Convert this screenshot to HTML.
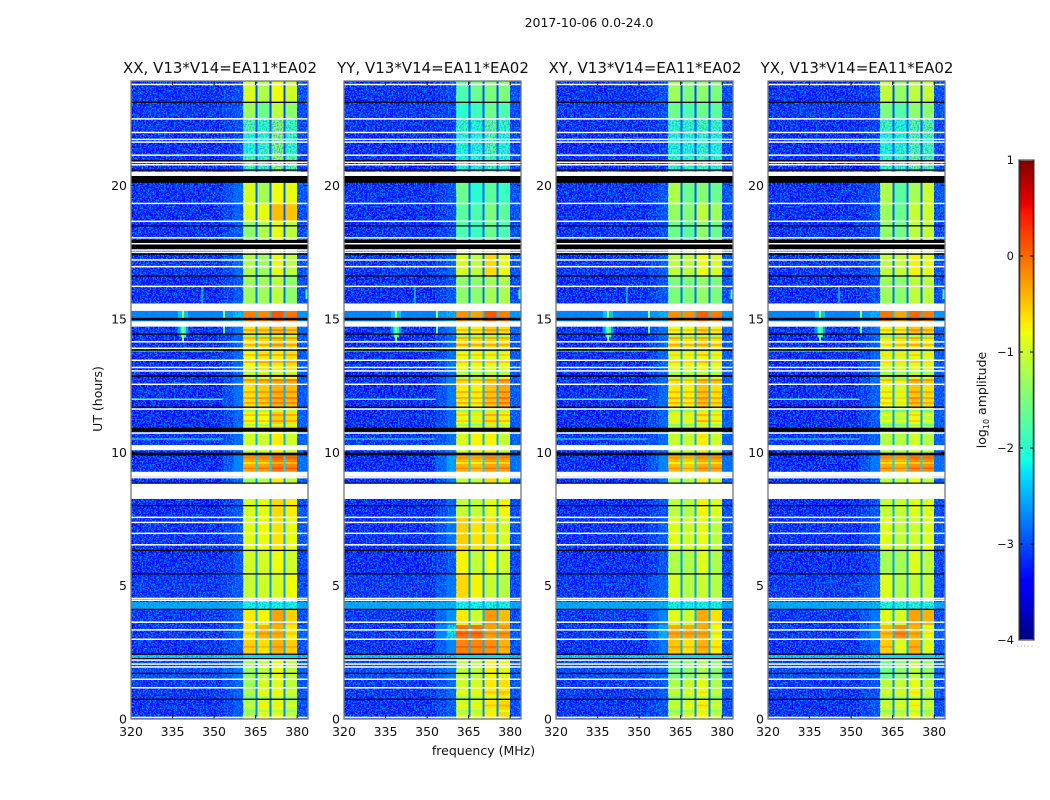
<!DOCTYPE html>
<html lang="en">
<head>
<meta charset="utf-8">
<title>2017-10-06 amplitude waterfall</title>
<style>
html,body{margin:0;padding:0;background:#fff;}
svg{display:block;font-family:"DejaVu Sans","Liberation Sans",sans-serif;fill:#111;}
</style>
</head>
<body>
<svg id="chart" xmlns="http://www.w3.org/2000/svg" width="1050" height="800" viewBox="0 0 1050 800">
<defs>
<filter id="grain" x="0" y="0" width="100%" height="100%" color-interpolation-filters="sRGB">
<feTurbulence type="fractalNoise" baseFrequency="0.62" numOctaves="2" seed="4"/>
<feColorMatrix type="matrix" values="0 0 0 0 0  0 0 0 0 0.55  0 0 0 0 1  0 0 0 6 -2.75"/>
</filter>
</defs>
<text x="589" y="27" text-anchor="middle" font-size="12.5">2017-10-06 0.0-24.0</text>
<text x="483.5" y="755" text-anchor="middle" font-size="12.5">frequency (MHz)</text>
<text transform="translate(102,399) rotate(-90)" text-anchor="middle" font-size="12.5">UT (hours)</text>
<text transform="translate(986,400) rotate(-90)" text-anchor="middle" font-size="12.5">log<tspan font-size="8" dy="3">10</tspan><tspan dy="-3"> amplitude</tspan></text>
<g id="plots"></g>
<g id="cbar"></g>
</svg>
<script>
/* ---------- data ---------- */
const panelNames = ["XX", "YY", "XY", "YX"];
const panelTitle = ", V13*V14=EA11*EA02";
const xTickLabels = [320, 335, 350, 365, 380];
const yTickLabels = [0, 5, 10, 15, 20];
const cbarTickValues = [1, 0, -1, -2, -3, -4];

/* time rows (hours, top edge to bottom edge) */
const rowEdges = [23.92,23.13,22.53,22.01,21.14,20.13,19.34,18.67,17.62,16.61,15.30,14.74,14.45,13.83,12.90,12.52,11.58,10.76,9.93,9.11,8.25,7.57,6.34,5.44,4.39,4.12,3.52,2.96,2.40,2.29,1.46,0.71,0];

/* shared log10 amplitudes per time row */
const backgroundVals = [-3.35,-3.3,-3.35,-3.4,-3.35,-3.35,-3.4,-3.35,-3.3,-3.4,-2.75,-3.3,-3.4,-3.4,-3.4,-3.4,-3.4,-3.3,-3.4,-3.35,-3.4,-3.35,-3.45,-3.3,-2.5,-3.3,-3.3,-3.35,-2.3,-3.15,-3.3,-3.35];
const rightVals = [-3.15,-3.15,-3.2,-3.2,-3.2,-3.1,-3.15,-3.15,-3.1,-3.15,-2.6,-3,-3.05,-3.05,-3.05,-3.05,-3.05,-3,-2.9,-3.05,-3.15,-3.1,-3.2,-3.15,-2.5,-3.15,-3,-3.1,-2.3,-3,-3.1,-3.15];
const gapVals = [-3,-3,-3,-3,-3,-2.9,-2.9,-2.9,-2.8,-2.8,-2.4,-2.6,-2.5,-2.5,-2.5,-2.5,-2.6,-2.5,-2.3,-2.6,-2.5,-2.5,-2.6,-2.6,-2.5,-2.5,-2.4,-2.5,-2.3,-2.8,-2.7,-2.7];

/* near-band shoulder per panel */
const rampXX = [-3.15,-3.1,-3.15,-3.2,-3.15,-2.95,-3,-3.05,-2.95,-3.05,-2.4,-2.85,-2.95,-2.95,-2.9,-2.9,-2.95,-2.95,-2.75,-2.95,-3.05,-3.1,-3.1,-3.05,-2.45,-3,-2.95,-3.05,-2.3,-2.85,-3,-3.05];
const rampYY = [-3.2,-3.2,-3.25,-3.25,-3.25,-3.15,-3.15,-3.15,-3,-3.1,-2.45,-2.85,-2.9,-2.9,-2.8,-2.85,-2.95,-2.9,-2.55,-2.85,-3,-2.85,-3.05,-2.85,-2.45,-2.65,-2.2,-2.75,-2.3,-2.8,-2.95,-3.05];
const rampXY = [-3.15,-3.15,-3.25,-3.25,-3.25,-3.1,-3.1,-3.15,-3,-3.1,-2.45,-2.9,-2.95,-3,-2.95,-2.95,-3,-2.95,-2.75,-2.95,-3.1,-3.05,-3.1,-3,-2.45,-2.75,-2.5,-2.85,-2.3,-2.95,-3.05,-3.1];
const rampYX = [-3.2,-3.2,-3.25,-3.25,-3.25,-3.15,-3.15,-3.15,-3.05,-3.15,-2.45,-2.9,-3,-3,-2.95,-3,-3.05,-3,-2.85,-3.05,-3.1,-3.1,-3.15,-3.05,-2.45,-2.85,-2.65,-2.95,-2.3,-3,-3.1,-3.1];

/* the four bright sub-bands per time row, per panel */
const bandsXX = [[-0.95,-1.2,-0.8,-1],[-1.3,-1.6,-1.1,-1.4],[-1.7,-1.9,-1.4,-1.8],[-2,-1.9,-1.4,-1.9],[-1.8,-1.9,-1.3,-1.7],[-0.95,-1.25,-0.8,-0.85],[-0.9,-0.85,-0.45,-0.5],[-1.4,-1.2,-0.85,-1.1],[-1.2,-1.3,-0.85,-1.1],[-1.3,-1.3,-1.1,-1.4],[-0.1,-0.15,0.1,-0.05],[-0.65,-0.6,-0.45,-0.55],[-0.7,-0.65,-0.5,-0.6],[-0.8,-0.65,-0.7,-0.65],[-0.55,-0.45,-0.35,-0.35],[-0.65,-0.55,-0.4,-0.45],[-0.8,-0.8,-0.55,-0.65],[-1,-1,-0.7,-1],[-0.35,-0.3,-0.1,-0.15],[-1.3,-1.2,-0.7,-1.1],[-0.95,-0.85,-0.6,-0.7],[-0.9,-0.8,-0.65,-0.85],[-1,-0.95,-0.8,-1],[-1.05,-1,-0.95,-0.8],[-2.1,-2.1,-2.1,-2.1],[-0.7,-0.75,-0.3,-0.55],[-0.7,-0.4,-0.4,-0.7],[-0.55,-0.65,-0.4,-0.55],[-2.3,-2.3,-2.3,-2.3],[-1.3,-1.1,-0.85,-1.1],[-1.3,-0.95,-0.9,-1.1],[-1.2,-0.9,-0.9,-1.1]];
const bandsYY = [[-1.8,-1.6,-1.5,-1.5],[-2,-1.9,-1.6,-1.8],[-1.9,-2,-1.6,-1.9],[-2,-2,-1.7,-2],[-2,-2,-1.8,-2],[-1.6,-2,-1.7,-1.9],[-1.7,-1.8,-1.5,-1.7],[-1.8,-1.9,-1.6,-1.8],[-0.95,-1.1,-0.6,-0.85],[-1.4,-1.4,-1.25,-1.2],[-0.2,-0.3,0.1,-0.1],[-0.75,-0.75,-0.55,-0.65],[-0.65,-0.65,-0.65,-0.65],[-0.85,-0.85,-0.85,-0.85],[-0.65,-0.7,-0.55,-0.35],[-0.7,-0.75,-0.5,-0.35],[-0.85,-0.95,-0.65,-0.75],[-0.95,-0.75,-0.75,-1.05],[-0.4,-0.45,-0.3,-0.3],[-1.1,-1.1,-0.6,-0.85],[-1.05,-1.05,-0.85,-0.75],[-0.55,-0.65,-0.65,-0.95],[-0.75,-1.05,-0.8,-1],[-0.6,-0.75,-1.05,-1.15],[-2.1,-2.1,-2.1,-2.1],[-0.7,-1,-0.25,-0.45],[-0.05,-0.05,-0.3,-0.25],[-0.15,-0.15,-0.2,-0.4],[-2.3,-2.3,-2.3,-2.3],[-1.1,-1.1,-0.75,-0.85],[-1,-0.95,-0.7,-0.65],[-1,-0.95,-0.7,-0.6]];
const bandsXY = [[-1.3,-1.5,-1.4,-1.5],[-1.6,-1.8,-1.6,-1.7],[-1.9,-1.9,-1.8,-1.9],[-2,-2,-1.9,-2],[-1.9,-1.9,-1.8,-1.9],[-1.2,-1.6,-1.45,-1.6],[-1.35,-1.45,-1.1,-1.3],[-1.6,-1.7,-1.4,-1.6],[-1.1,-1.1,-0.8,-0.95],[-1.5,-1.5,-1.35,-1.5],[-0.2,-0.2,0.05,-0.1],[-0.85,-0.85,-0.6,-0.75],[-0.65,-0.7,-0.6,-0.7],[-0.9,-0.9,-0.75,-0.9],[-0.7,-0.75,-0.5,-0.5],[-0.7,-0.75,-0.5,-0.65],[-1,-1,-0.7,-0.85],[-1.05,-1.05,-0.7,-1],[-0.45,-0.55,-0.35,-0.35],[-1.2,-1.2,-0.7,-1],[-1.1,-1.15,-0.75,-0.9],[-0.9,-1,-0.85,-1.1],[-1.2,-1.2,-0.9,-1.2],[-0.95,-1.15,-1.05,-1.15],[-2.1,-2.1,-2.1,-2.1],[-0.9,-1,-0.35,-0.65],[-0.35,-0.35,-0.35,-0.8],[-0.5,-0.65,-0.4,-0.7],[-2.3,-2.3,-2.3,-2.3],[-1.5,-1.4,-1.2,-1.4],[-1.2,-1.05,-0.85,-1.2],[-1.15,-1,-0.75,-1.1]];
const bandsYX = [[-1.1,-1.35,-1.1,-1.05],[-1.5,-1.75,-1.4,-1.4],[-1.8,-2,-1.7,-1.7],[-2,-2,-1.7,-1.8],[-1.9,-1.9,-1.6,-1.7],[-1.2,-1.7,-1.25,-1],[-1.3,-1.6,-1.05,-1],[-1.35,-1.55,-1.1,-1.05],[-1.1,-1.05,-0.75,-0.85],[-1.3,-1.4,-1.1,-1.1],[-0.05,-0.3,0,-0.1],[-0.8,-0.75,-0.5,-0.6],[-0.9,-0.75,-0.65,-0.75],[-0.95,-0.95,-0.85,-0.95],[-0.75,-0.85,-0.45,-0.55],[-0.85,-0.95,-0.5,-0.65],[-1.1,-1.15,-0.85,-1.15],[-1.15,-1.15,-1,-1.15],[-0.35,-0.4,-0.2,-0.2],[-1.2,-1.1,-0.8,-1.1],[-1.05,-1.05,-0.9,-0.9],[-0.9,-1.05,-1,-0.9],[-1.25,-1.25,-0.9,-1.1],[-0.9,-1.15,-1.05,-1.05],[-2,-2,-2,-2],[-0.9,-0.95,-0.3,-0.4],[-0.45,-0.2,-0.4,-0.85],[-0.55,-0.95,-0.4,-0.95],[-2.3,-2.3,-2.3,-2.3],[-1.6,-1.4,-1.1,-1.35],[-1.1,-1.05,-0.85,-1.1],[-1.1,-1.05,-0.85,-1.1]];

/* thin horizontal ripples across the bright bands: [hour, change in log10 amp] */
const bandRipples = [[14.58,0.3],[14.36,-0.5],[14.28,0.3],[14.02,0.3],[13.8,-0.5],[13.65,0.3],[13.38,0.3],[13,-0.5],[12.78,-0.5],[12.71,0.3],[12.26,0.3],[12.03,0.35],[11.85,0.3],[11.55,-0.5],[11.4,0.3],[11.17,0.3],[11.02,-0.5],[9.8,0.25],[9.6,-0.3],[9.4,0.25],[3.2,0.2],[2.7,0.2],[1.0,0.2],[0.8,-0.3],[0.5,0.2],[0.3,-0.3]];
/* hour spans where the band power breaks up into speckle */
const noisyBandSpans = [[20.54,22.53],[4.12,4.39]];

/* narrow-band interference: [MHz lo, MHz hi, hour lo, hour hi, log10 amp] */
const rfiSpots = [[336.8,340.8,14.45,14.72,-2.6],[337.8,339.8,14.3,14.72,-2.1],[338.5,339.2,14.13,14.72,-1.4],[337,340.5,15.04,15.3,-2.4],[338.4,339.2,15.04,15.3,-1.2],[345.4,345.8,15.6,16.2,-2],[353.3,353.9,14.45,14.74,-1.6],[353.3,353.9,15.04,15.3,-1.3],[320,353,13.78,13.83,-1.9],[320,353,11.96,12.01,-1.7],[320,353,10.47,10.52,-1.9],[330,341,3.32,3.37,-1.8],[383,384,15.75,16.1,-1.8]];

/* flagged (missing) data, in hours */
const whiteLines = [23.79,22.5,21.99,21.73,21.63,21.14,20.87,20.78,19.33,18.66,18.04,17.82,17.58,17.50,17.21,16.96,16.22,14.14,13.90,13.45,13.18,13.05,12.55,11.62,10.72,9.05,7.56,7.37,6.96,6.53,4.52,4.45,3.63,3.34,2.99,2.21,2.06,1.95,1.49,1.17,0.06];
const whiteBlocks = [[20.36,20.52],[15.30,15.58],[14.71,14.91],[10.08,10.27],[9.08,9.27],[8.25,8.82]];
const blackLines = [23.12,20.93,20.58,18.49,17.43,16.61,14.43,13.83,11.69,9.96,9.91,8.84,8.0,6.32,5.44,4.11,2.43,2.26,1.71,0.74];
const blackBlocks = [[20.10,20.36],[17.62,17.96],[14.95,15.04],[12.83,12.90],[10.77,10.92]];

/* ---------- scales ---------- */
const NS = "http://www.w3.org/2000/svg";
const plotTop = 81, plotBottom = 719, plotWidth = 177;
const axisLefts = [131, 344, 556, 768];
const freqMin = 320, freqMax = 383.9, hourMax = 23.92;
const panelBands = [bandsXX, bandsYY, bandsXY, bandsYX];
const panelRamps = [rampXX, rampYY, rampXY, rampYX];
const bandCols = [[360.5,365],[365.7,370],[370.7,375],[375.7,380]];
const gapCols = [[365,365.7],[370,370.7],[375,375.7]];

function xScale(f, left) { return left + (f - freqMin) / (freqMax - freqMin) * plotWidth; }
function yScale(h) { return plotBottom - h / hourMax * (plotBottom - plotTop); }
function lerp(t, pts) {
  for (let i = 1; i < pts.length; i++) {
    if (t <= pts[i][0]) {
      const a = pts[i-1], b = pts[i];
      return a[1] + (b[1] - a[1]) * (t - a[0]) / (b[0] - a[0]);
    }
  }
  return pts[pts.length-1][1];
}
function jet(t) {
  t = Math.max(0, Math.min(1, t));
  const r = lerp(t, [[0,0],[0.35,0],[0.66,1],[0.89,1],[1,0.5]]);
  const g = lerp(t, [[0,0],[0.125,0],[0.375,1],[0.64,1],[0.91,0],[1,0]]);
  const b = lerp(t, [[0,0.5],[0.11,1],[0.34,1],[0.65,0],[1,0]]);
  return "rgb(" + Math.round(r*255) + "," + Math.round(g*255) + "," + Math.round(b*255) + ")";
}
function ampColor(v) { return jet((v + 4) / 5); }
function rowIndex(h) {
  for (let i = 0; i < rowEdges.length - 1; i++) {
    if (h <= rowEdges[i] && h > rowEdges[i+1]) return i;
  }
  return rowEdges.length - 2;
}

function rect(parent, x, y, w, h, fill) {
  const el = document.createElementNS(NS, "rect");
  el.setAttribute("x", x.toFixed(2));
  el.setAttribute("y", y.toFixed(2));
  el.setAttribute("width", Math.max(w, 0).toFixed(2));
  el.setAttribute("height", Math.max(h, 0).toFixed(2));
  el.setAttribute("fill", fill);
  parent.appendChild(el);
  return el;
}
function cell(parent, left, fLo, fHi, tHi, tLo, v) {
  const x0 = xScale(fLo, left), x1 = xScale(fHi, left), y0 = yScale(tHi), y1 = yScale(tLo);
  const el = rect(parent, x0, y0, x1 - x0, y1 - y0, ampColor(v));
  el.setAttribute("shape-rendering", "crispEdges");
  
  
  return el;
}
function text(parent, x, y, str, size, anchor) {
  const el = document.createElementNS(NS, "text");
  el.setAttribute("x", x);
  el.setAttribute("y", y);
  el.setAttribute("font-size", size);
  el.setAttribute("text-anchor", anchor);
  el.textContent = str;
  parent.appendChild(el);
  return el;
}
function line(parent, x1, y1, x2, y2, color, width) {
  const el = document.createElementNS(NS, "line");
  el.setAttribute("x1", x1);
  el.setAttribute("y1", y1);
  el.setAttribute("x2", x2);
  el.setAttribute("y2", y2);
  el.setAttribute("stroke", color);
  el.setAttribute("stroke-width", width);
  parent.appendChild(el);
  return el;
}

/* ---------- panels ---------- */
const plots = document.getElementById("plots");
panelNames.forEach(function (name, p) {
  const left = axisLefts[p];
  const g = document.createElementNS(NS, "g");
  
  
  plots.appendChild(g);

  const bands = panelBands[p], ramp = panelRamps[p];
  for (let i = 0; i < rowEdges.length - 1; i++) {
    const hi = rowEdges[i], lo = rowEdges[i+1];
    cell(g, left, 320, 353, hi, lo, backgroundVals[i]);
    cell(g, left, 353, 357, hi, lo, (backgroundVals[i] + ramp[i]) / 2);
    cell(g, left, 357, 360.5, hi, lo, ramp[i]);
    bandCols.forEach(function (c, b) { cell(g, left, c[0], c[1], hi, lo, bands[i][b]); });
    gapCols.forEach(function (c) { cell(g, left, c[0], c[1], hi, lo, gapVals[i]); });
    cell(g, left, 380, freqMax, hi, lo, rightVals[i]);
  }

  bandRipples.forEach(function (r) {
    const row = rowIndex(r[0]);
    bandCols.forEach(function (c, b) {
      const el = cell(g, left, c[0], c[1], r[0] + 0.035, r[0] - 0.035, bands[row][b] + r[1]);
      
    });
  });

  const grainL = rect(g, left, plotTop, xScale(360.5, left) - left, plotBottom - plotTop, "#000");
  grainL.setAttribute("filter", "url(#grain)");
  
  
  const grainR = rect(g, xScale(380, left), plotTop, left + plotWidth - xScale(380, left), plotBottom - plotTop, "#000");
  grainR.setAttribute("filter", "url(#grain)");
  
  
  noisyBandSpans.forEach(function (s) {
    const y0 = yScale(s[1]);
    const el = rect(g, xScale(360.5, left), y0, xScale(380, left) - xScale(360.5, left), yScale(s[0]) - y0, "#000");
    el.setAttribute("filter", "url(#grain)");
    el.setAttribute("opacity", "0.55");
    
    
  });

  rfiSpots.forEach(function (s) {
    const el = cell(g, left, s[0], s[1], s[3], s[2], s[4]);
    
  });

  blackBlocks.forEach(function (b) {
    const el = rect(g, left, yScale(b[1]), plotWidth, yScale(b[0]) - yScale(b[1]), "#000");
    
    
  });
  blackLines.forEach(function (h) {
    const el = rect(g, left, yScale(h) - 0.65, plotWidth, 1.3, "#000");
    
    
  });
  whiteBlocks.forEach(function (b) {
    const el = rect(g, left, yScale(b[1]), plotWidth, yScale(b[0]) - yScale(b[1]), "#fff");
    
    
  });
  whiteLines.forEach(function (h) {
    const el = rect(g, left, yScale(h) - 0.75, plotWidth, 1.5, "#fff");
    
    
  });

  xTickLabels.forEach(function (f) {
    const x = xScale(f, left);
    const t1 = line(g, x, plotBottom, x, plotBottom - 4, "#000", 1);
    
    
    const t2 = line(g, x, plotTop, x, plotTop + 4, "#000", 1);
    
    
    const lab = text(g, x, 736, String(f), 12.5, "middle");
    
    
  });
  yTickLabels.forEach(function (h) {
    const y = yScale(h);
    const t1 = line(g, left, y, left + 4, y, "#000", 1);
    
    
    const t2 = line(g, left + plotWidth, y, left + plotWidth - 4, y, "#000", 1);
    
    
    const lab = text(g, left - 4, y + 4.5, String(h), 12.5, "end");
    
    
  });

  const frame = rect(g, left, plotTop, plotWidth, plotBottom - plotTop, "none");
  frame.setAttribute("stroke", "#777");
  frame.setAttribute("stroke-width", "1.3");
  
  

  const title = text(g, left + plotWidth / 2 + 0.5, 73, name + panelTitle, 15, "middle");
  
  
});

/* ---------- colour bar ---------- */
const cbar = document.getElementById("cbar");
const cbarLeft = 1019, cbarWidth = 15, cbarTop = 160, cbarBottom = 640;
function cbarY(v) { return cbarBottom - (v + 4) / 5 * (cbarBottom - cbarTop); }
const cbarSteps = 240;
for (let i = 0; i < cbarSteps; i++) {
  const frac = (i + 0.5) / cbarSteps;
  const y = cbarTop + (cbarBottom - cbarTop) * i / cbarSteps;
  const el = rect(cbar, cbarLeft, y, cbarWidth, (cbarBottom - cbarTop) / cbarSteps + 0.3, jet(1 - frac));
  el.setAttribute("shape-rendering", "crispEdges");
  
  
}
cbarTickValues.forEach(function (v) {
  const y = cbarY(v);
  const t1 = line(cbar, cbarLeft, y, cbarLeft + 4, y, "#000", 1);
  
  
  const t2 = line(cbar, cbarLeft + cbarWidth, y, cbarLeft + cbarWidth - 4, y, "#000", 1);
  
  
  const lab = text(cbar, 1014, y + 4, (v < 0 ? "\u2212" + (-v) : String(v)), 11.5, "end");
  
  
});
const cbarFrame = rect(cbar, cbarLeft, cbarTop, cbarWidth, cbarBottom - cbarTop, "none");
cbarFrame.setAttribute("stroke", "#777");
cbarFrame.setAttribute("stroke-width", "1.5");


const cbarInner = line(cbar, cbarLeft + 0.8, cbarTop, cbarLeft + 0.8, cbarBottom, "#000", 0.8);


const cbarInnerR = line(cbar, cbarLeft + cbarWidth - 0.8, cbarTop, cbarLeft + cbarWidth - 0.8, cbarBottom, "#000", 0.8);


const cbarDots = line(cbar, 1017, 646, 1035, 646, "#999", 1);
cbarDots.setAttribute("stroke-dasharray", "1 2.6");


</script>
</body>
</html>
